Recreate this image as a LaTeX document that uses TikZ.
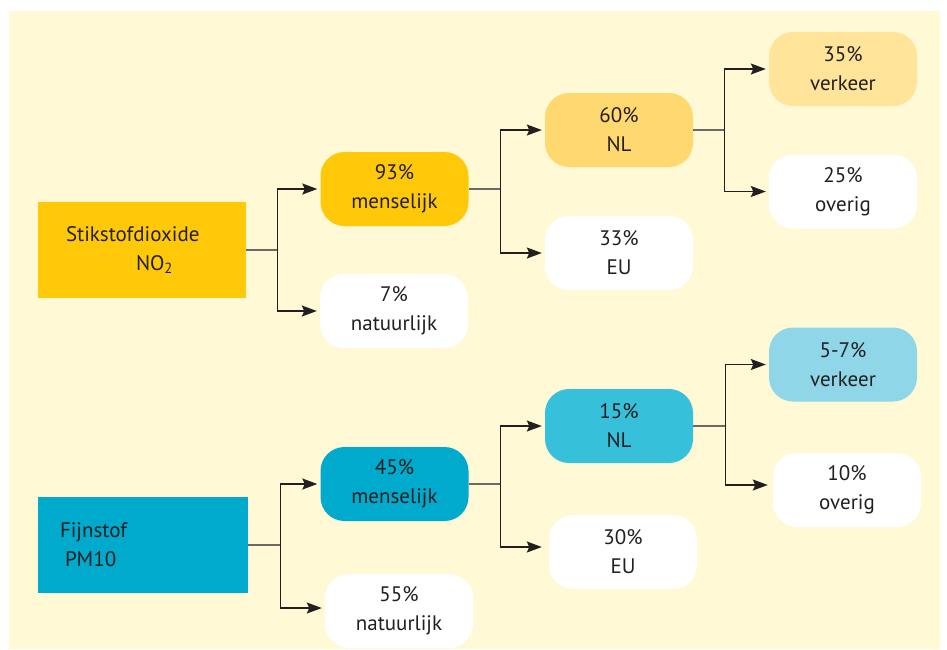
\documentclass[tikz,border=0pt]{standalone}
\usepackage{fontspec}
\setmainfont{PT Sans}
\usetikzlibrary{arrows.meta}

\definecolor{achtergrond}{HTML}{FFF9D6}
\definecolor{geel}{HTML}{FFC90A}
\definecolor{geellicht}{HTML}{FFD86F}
\definecolor{geelbleek}{HTML}{FFE49A}
\definecolor{blauw}{HTML}{00AACC}
\definecolor{blauwlicht}{HTML}{36C0DA}
\definecolor{blauwbleek}{HTML}{8ED6E8}
\definecolor{lijnzwart}{HTML}{231F20}
\definecolor{lijngrijs}{HTML}{6A6A6A}

\begin{document}
\begin{tikzpicture}[x=1pt,y=-1pt,
        every node/.style={text=lijnzwart, font={\fontsize{21}{29}\selectfont}},
        bron/.style={rectangle, minimum height=96pt, inner ysep=0pt, align=left},
        blok/.style={rectangle, rounded corners=24pt, minimum width=148pt, minimum height=74pt, inner sep=0pt, align=center},
        stomp/.style={draw=lijngrijs, line width=1.3pt},
        pijl/.style={draw=lijnzwart, line width=1.4pt, -{Stealth[length=15pt,width=11pt,inset=2.5pt]}, shorten >=3pt}]

        \useasboundingbox (0,0) rectangle (947,649);
        \fill[achtergrond] (9,11) rectangle (940,649);

        % stikstofdioxide
        \node[bron, fill=geel, text width=152pt, inner xsep=28pt] (no2) at (142,250) {Stikstofdioxide\\\hspace*{70pt}NO\textsubscript{2}};
        \node[blok, fill=geel] (m93) at (394.5,189) {93\%\\menselijk};
        \node[blok, fill=white] (n7) at (394,311) {7\%\\natuurlijk};
        \node[blok, fill=geellicht] (nl60) at (619,130) {60\%\\NL};
        \node[blok, fill=white] (eu33) at (619,253) {33\%\\EU};
        \node[blok, fill=geelbleek] (v35) at (843,69) {35\%\\verkeer};
        \node[blok, fill=white] (o25) at (843,191.5) {25\%\\overig};

        % fijnstof
        \node[bron, fill=blauw, text width=166pt, inner xsep=22pt] (pm10) at (143,545) {Fijnstof\\\hspace*{5pt}PM10};
        \node[blok, fill=blauw] (m45) at (394.5,484) {45\%\\menselijk};
        \node[blok, fill=white] (n55) at (399,611) {55\%\\natuurlijk};
        \node[blok, fill=blauwlicht] (nl15) at (619,426) {15\%\\NL};
        \node[blok, fill=white] (eu30) at (623,552) {30\%\\EU};
        \node[blok, fill=blauwbleek] (v57) at (843,364.5) {5-7\%\\verkeer};
        \node[blok, fill=white] (o10) at (847,490) {10\%\\overig};

        \draw[stomp] (no2.east) -- ++(31,0) coordinate (j1);
        \draw[pijl] (j1) |- (m93.west);
        \draw[pijl] (j1) |- (n7.west);

        \draw[stomp] (m93.east) -- ++(32,0) coordinate (j2);
        \draw[pijl] (j2) |- (nl60.west);
        \draw[pijl] (j2) |- (eu33.west);

        \draw[stomp] (nl60.east) -- ++(31,0) coordinate (j3);
        \draw[pijl] (j3) |- (v35.west);
        \draw[pijl] (j3) |- (o25.west);

        \draw[stomp] (pm10.east) -- ++(32,0) coordinate (j4);
        \draw[pijl] (j4) |- (m45.west);
        \draw[pijl] (j4) |- ([yshift=3pt]n55.west);

        \draw[stomp] (m45.east) -- ++(32,0) coordinate (j5);
        \draw[pijl] (j5) |- (nl15.west);
        \draw[pijl, shorten >=7pt] (j5) |- ([yshift=5pt]eu30.west);

        \draw[stomp] (nl15.east) -- ++(32,0) coordinate (j6);
        \draw[pijl] (j6) |- (v57.west);
        \draw[pijl, shorten >=5pt] (j6) |- ([yshift=5pt]o10.west);

    \end{tikzpicture}
\end{document}
